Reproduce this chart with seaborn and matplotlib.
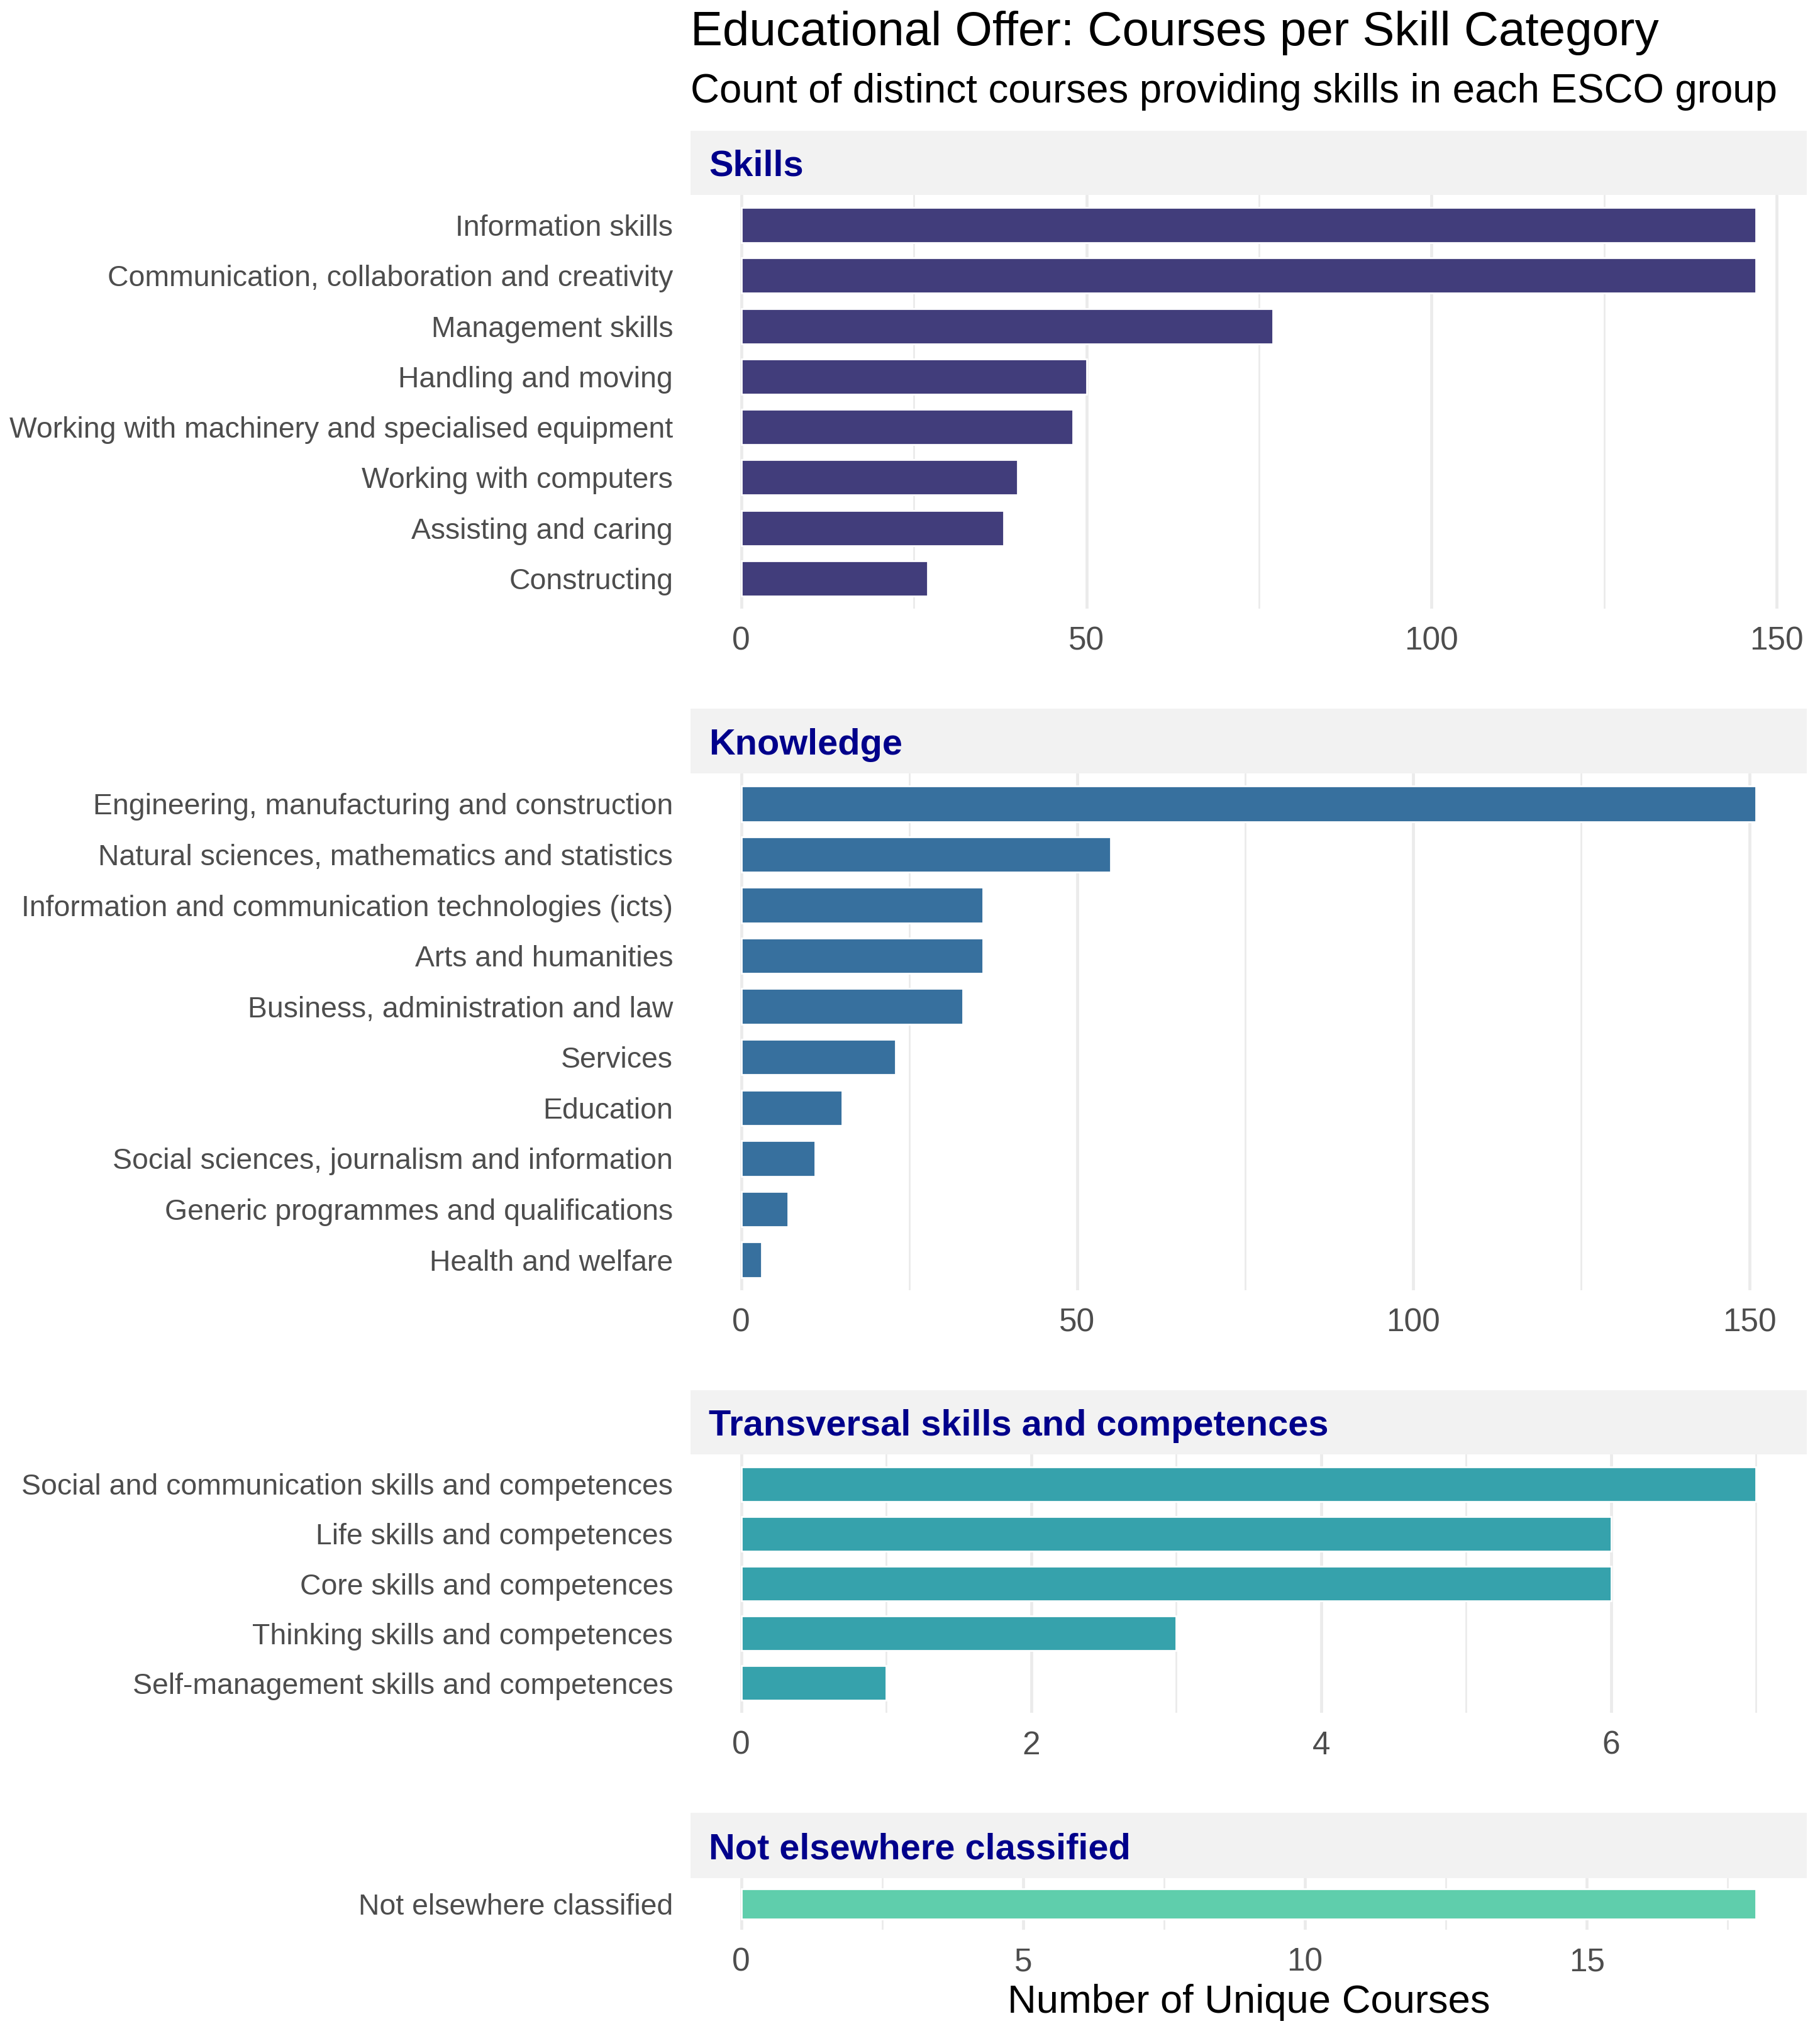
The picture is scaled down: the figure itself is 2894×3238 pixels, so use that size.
import matplotlib
matplotlib.use("Agg")
import matplotlib.pyplot as plt
from matplotlib.patches import Rectangle
import seaborn as sns
import pandas as pd

# ---------- data ----------
skills_labels = ["Information skills", "Communication, collaboration and creativity",
                 "Management skills", "Handling and moving",
                 "Working with machinery and specialised equipment",
                 "Working with computers", "Assisting and caring", "Constructing"]
skills_counts = [147, 147, 77, 50, 48, 40, 38, 27]

knowledge_labels = ["Engineering, manufacturing and construction",
                    "Natural sciences, mathematics and statistics",
                    "Information and communication technologies (icts)",
                    "Arts and humanities", "Business, administration and law",
                    "Services", "Education", "Social sciences, journalism and information",
                    "Generic programmes and qualifications", "Health and welfare"]
knowledge_counts = [151, 55, 36, 36, 33, 23, 15, 11, 7, 3]

transversal_labels = ["Social and communication skills and competences",
                      "Life skills and competences", "Core skills and competences",
                      "Thinking skills and competences",
                      "Self-management skills and competences"]
transversal_counts = [7, 6, 6, 3, 1]

nec_labels = ["Not elsewhere classified"]
nec_counts = [18]

groups = ["Skills", "Knowledge", "Transversal skills and competences", "Not elsewhere classified"]
colors = ["#413D7B", "#37709E", "#36A2AC", "#5FCEAC"]

# ---------- layout in pixels of the 2894x3238 output ----------
W, H = 2894, 3238
sns.set_theme(style="white")
plt.rcParams["font.family"] = ["Liberation Sans", "DejaVu Sans"]

fig = plt.figure(figsize=(W / 200, H / 200), dpi=200)
fig.patch.set_facecolor("white")

X0, X1 = 1098, 2873
# (strip top, panel top, panel bottom)
boxes = [(208, 310, 968), (1127, 1230, 2052), (2211, 2313, 2724), (2883, 2987, 3069)]
majors = [[0, 50, 100, 150], [0, 50, 100, 150], [0, 2, 4, 6], [0, 5, 10, 15]]
minors = [[25, 75, 125], [25, 75, 125], [1, 3, 5, 7], [2.5, 7.5, 12.5, 17.5]]
data = [(skills_labels, skills_counts), (knowledge_labels, knowledge_counts),
        (transversal_labels, transversal_counts), (nec_labels, nec_counts)]

for (labs, vals), grp, col, (st, pt, pb), mj, mn in zip(data, groups, colors, boxes, majors, minors):
    # strip
    fig.add_artist(Rectangle((X0 / W, 1 - pt / H), (X1 - X0) / W, (pt - st) / H,
                             transform=fig.transFigure, facecolor="#F2F2F2",
                             edgecolor="none", zorder=0))
    fig.text((X0 + 29) / W, 1 - (st + pt) / 2 / H, grp, fontsize=20.8, fontweight="bold",
             color="#00008B", ha="left", va="center_baseline")

    ax = fig.add_axes([X0 / W, 1 - pb / H, (X1 - X0) / W, (pb - pt) / H])
    df = pd.DataFrame({"category": labs, "count": vals})
    sns.barplot(data=df, x="count", y="category", orient="h", color=col,
                width=0.7, saturation=1, ax=ax, zorder=3)
    n = len(labs)
    mx = max(vals)
    ax.set_xlim(-0.05 * mx, 1.05 * mx)
    ax.set_ylim(n - 1 + 0.6, -0.6)
    ax.set_xticks(mj)
    ax.set_xticks(mn, minor=True)
    ax.grid(axis="x", which="major", color="#EBEBEB", linewidth=1.7, zorder=0)
    ax.grid(axis="x", which="minor", color="#EBEBEB", linewidth=1.0, zorder=0)
    ax.grid(axis="y", visible=False)
    ax.set_axisbelow(True)
    for s in ax.spines.values():
        s.set_visible(False)
    ax.tick_params(axis="both", which="both", length=0)
    ax.tick_params(axis="x", pad=10, labelsize=18.5, labelcolor="#4D4D4D")
    ax.tick_params(axis="y", pad=10, labelsize=16.7, labelcolor="#4D4D4D")
    ax.set_xlabel("")
    ax.set_ylabel("")
    ax.set_facecolor("white")

fig.text(X0 / W, 1 - 72 / H, "Educational Offer: Courses per Skill Category",
         fontsize=27.5, color="black", ha="left", va="baseline")
fig.text(X0 / W, 1 - 163 / H, "Count of distinct courses providing skills in each ESCO group",
         fontsize=22.9, color="black", ha="left", va="baseline")
fig.text((X0 + X1) / 2 / W, 1 - 3201 / H, "Number of Unique Courses",
         fontsize=22.8, color="black", ha="center", va="baseline")

fig.savefig("out.png", dpi=200, facecolor="white")
